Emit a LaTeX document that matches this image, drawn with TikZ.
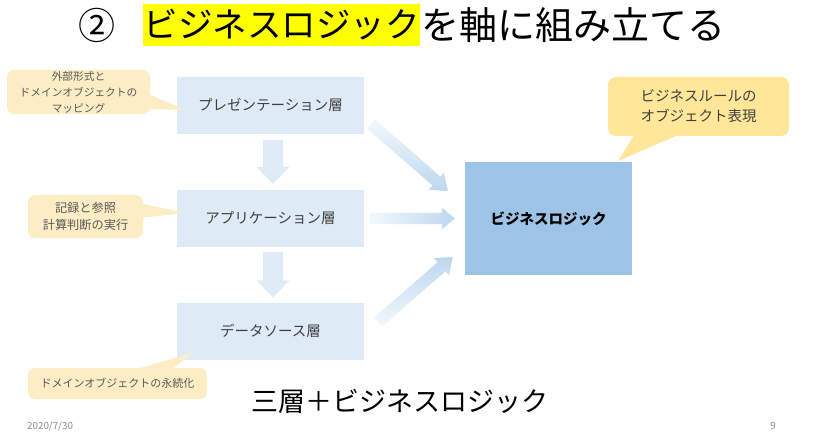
\documentclass[tikz,border=0pt]{standalone}
\usepackage{fontspec}
\setmainfont{Noto Sans CJK JP}
\usetikzlibrary{calc}
\definecolor{boxblue}{HTML}{DEEBF7}
\definecolor{bizblue}{HTML}{9DC3E6}
\definecolor{paleyel}{HTML}{FCEDC4}
\definecolor{calyel}{HTML}{FFE699}
\definecolor{arrdark}{HTML}{BDD7EE}
\definecolor{arrlight}{HTML}{F3F8FD}
\definecolor{txtgray}{HTML}{404040}
\definecolor{notegray}{HTML}{595959}
\definecolor{hlyellow}{HTML}{FFFF00}
\definecolor{dategray}{HTML}{8C8C8C}
\newcommand{\blockarrow}[7]{%
  \coordinate (#1-h) at ($(#3)!#6!(#2)$);
  \path[#7] ($(#2)!#4!90:(#3)$) -- ($(#1-h)!#4!90:(#3)$) -- ($(#1-h)!#5!90:(#3)$) -- (#3)
    -- ($(#1-h)!#5!-90:(#3)$) -- ($(#1-h)!#4!-90:(#3)$) -- ($(#2)!#4!-90:(#3)$) -- cycle;
}
\begin{document}
\begin{tikzpicture}[x=1pt,y=-1pt,
  layerbox/.style={fill=boxblue, minimum width=187pt, minimum height=57pt, inner sep=0pt,
    text=txtgray, font=\fontsize{14.5}{17}\selectfont},
  bizbox/.style={fill=bizblue, minimum width=167pt, minimum height=113pt, inner sep=0pt,
    font=\fontsize{14.5}{17}\bfseries\selectfont},
  note/.style={fill=paleyel, rounded corners=7pt, inner sep=0pt, align=center, text=notegray},
  bignote/.style={fill=calyel, rounded corners=8pt, inner sep=0pt, align=center, text=txtgray,
    font=\fontsize{14.5}{20}\selectfont},
  downarr/.style={fill=boxblue},
]
\useasboundingbox (0,0) rectangle (836,441);
\fill[white] (0,0) rectangle (836,441);

% title
\node[font=\fontsize{37}{44}\selectfont, inner sep=0pt] (num) at (97,25) {②};
\node[fill=hlyellow, minimum width=277pt, minimum height=42pt, inner sep=0pt,
  font=\fontsize{34.5}{40}\selectfont] (hl) at (281.5,25) {ビジネスロジック};
\node[anchor=west, inner sep=0pt, font=\fontsize{38}{45}\selectfont, xshift=1pt] (rest) at (hl.east) {を軸に組み立てる};

% layers
\node[layerbox] (pres) at (270.5,105.5) {プレゼンテーション層};
\node[layerbox] (app) at (270.5,218.5) {アプリケーション層};
\node[layerbox] (data) at (270.5,331) {データソース層};
\node[bizbox] (biz) at (548.5,218.5) {ビジネスロジック};

% vertical arrows
\coordinate (d1s) at ($(pres.south)+(2.5,6)$);
\coordinate (d1e) at ($(app.north)+(2.5,-6)$);
\coordinate (d2s) at ($(app.south)+(2.5,5)$);
\coordinate (d2e) at ($(data.north)+(2.5,-5)$);
\blockarrow{da}{d1s}{d1e}{10pt}{16.5pt}{17pt}{downarr}
\blockarrow{db}{d2s}{d2e}{10pt}{16.5pt}{17pt}{downarr}

% arrows into business logic
\coordinate (hs) at ($(app.east)+(6,0)$);
\coordinate (he) at ($(biz.west)+(-10,0)$);
\coordinate (ts) at ($(pres.east)+(7,18.5)$);
\coordinate (te) at ($(biz.west)+(-17,-27.5)$);
\coordinate (bs) at ($(data.east)+(14,-9)$);
\coordinate (be) at ($(biz.west)+(-12,38.5)$);
\blockarrow{ha}{hs}{he}{5.5pt}{11pt}{13pt}{left color=arrlight, right color=arrdark}
\blockarrow{ta}{ts}{te}{6pt}{11.5pt}{15pt}{top color=arrlight, bottom color=arrdark}
\blockarrow{ba}{bs}{be}{6pt}{11.5pt}{15pt}{top color=arrdark, bottom color=arrlight}

% callouts
\fill[paleyel] (146,93) -- (185,110) -- (146,109) -- cycle;
\node[note, minimum width=143pt, minimum height=44pt, font=\fontsize{10.7}{16}\selectfont]
  (n1) at (78.5,92) {外部形式と\\ドメインオブジェクトの\\マッピング};
\fill[paleyel] (139,203) -- (185,213) -- (139,218) -- cycle;
\node[note, minimum width=115pt, minimum height=43pt, font=\fontsize{12.2}{17}\selectfont]
  (n2) at (85.5,216.5) {記録と参照\\計算判断の実行};
\fill[paleyel] (130,371) -- (192,353) -- (170,371) -- cycle;
\node[note, minimum width=179pt, minimum height=31pt, font=\fontsize{11}{14}\selectfont]
  (n3) at (117.5,383.5) {ドメインオブジェクトの永続化};
\fill[calyel] (636,132) -- (618,161) -- (685,132) -- cycle;
\node[bignote, minimum width=181pt, minimum height=59pt]
  (n4) at (698.5,106.5) {ビジネスルールの\\オブジェクト表現};

% caption and footer
\node[font=\fontsize{27}{32}\selectfont, inner sep=0pt] (cap) at (400,401) {三層＋ビジネスロジック};
\node[anchor=west, inner sep=0pt, text=dategray, font=\fontsize{9.8}{12}\selectfont] (date) at (27,426) {2020/7/30};
\node[inner sep=0pt, text=dategray, font=\fontsize{9.8}{12}\selectfont] (page) at (773,426) {9};
\end{tikzpicture}
\end{document}
